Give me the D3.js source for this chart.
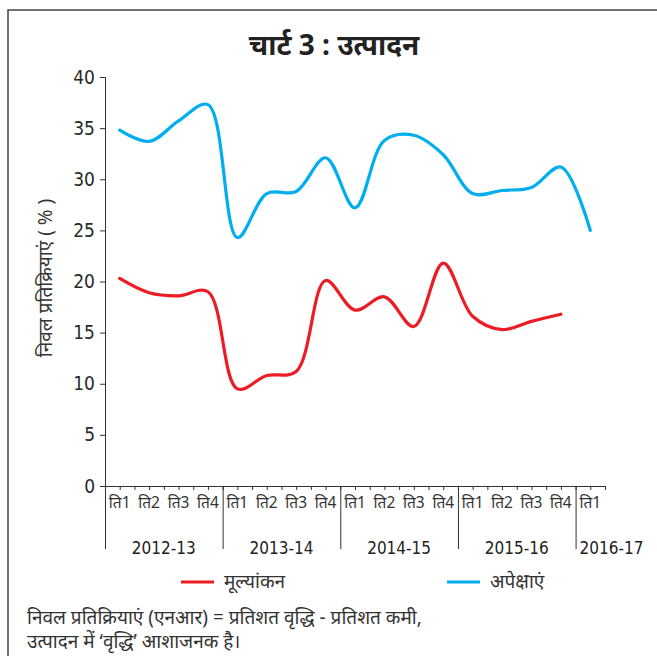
<!DOCTYPE html>
<html>
<head>
<meta charset="utf-8">
<script src="https://cdn.jsdelivr.net/npm/d3@7"></script>
<style>
  html, body { margin: 0; padding: 0; background: #fff; }
  svg { display: block; }
  .deva { font-family: "Noto Sans", "Noto Sans Devanagari", "Lohit Devanagari", sans-serif; }
  .num { font-family: "DejaVu Sans Condensed", "DejaVu Sans", sans-serif; }
</style>
</head>
<body>
<svg id="chart" width="657" height="656"></svg>
<script>
// ---- data ----
const quarterLabels = ["ति1","ति2","ति3","ति4","ति1","ति2","ति3","ति4","ति1","ति2","ति3","ति4","ति1","ति2","ति3","ति4","ति1"];
const years = ["2012-13","2013-14","2014-15","2015-16","2016-17"];
const quartersPerYear = [4, 4, 4, 4, 1];
const assessment = [20.3, 18.9, 18.6, 19.0, 9.5, 10.8, 11.2, 20.1, 17.2, 18.5, 15.6, 21.8, 16.6, 15.3, 16.1, 16.8];
const expectations = [34.8, 33.7, 35.7, 37.3, 24.3, 28.6, 28.8, 32.1, 27.2, 33.8, 34.3, 32.4, 28.6, 28.9, 29.2, 31.2, 25.0];
const yTicks = [0, 5, 10, 15, 20, 25, 30, 35, 40];
const seriesNames = ["मूल्यांकन", "अपेक्षाएं"];
const title = "चार्ट 3 : उत्पादन";
const yTitle = "निवल प्रतिक्रियाएं ( % )";
const notes = ["निवल प्रतिक्रियाएं (एनआर) = प्रतिशत वृद्धि - प्रतिशत कमी,", "उत्पादन में ‘वृद्धि’ आशाजनक है।"];

// ---- layout ----
const svg = d3.select("#chart");
const pLeft = 105, pRight = 605, pTop = 77, pBottom = 486;
const idx = d3.range(quarterLabels.length);
const x = d3.scaleBand().domain(idx).range([pLeft, pRight]).padding(0);
const xh = d3.scaleLinear().domain([0, quarterLabels.length]).range([pLeft, pRight]);
const y = d3.scaleLinear().domain([0, 40]).range([pBottom, pTop]);
const red = "#ec1c24", blue = "#00aeef", ink = "#333";

// frame
svg.append("path").attr("d", `M8,656 L8,10 L657,10`).attr("fill", "none").attr("stroke", "#444").attr("stroke-width", 1.5);

// title
svg.append("text").attr("class", "deva").attr("x", 334).attr("y", 55).attr("text-anchor", "middle")
  .attr("font-size", 28).attr("font-weight", "bold").attr("fill", "#222").text(title);

// y axis
const yAxis = svg.append("g").attr("transform", `translate(${pLeft},0)`)
  .call(d3.axisLeft(y).tickValues(yTicks).tickSize(5).tickPadding(5));
yAxis.select(".domain").attr("stroke", ink).attr("d", `M0.5,${pTop}V${pBottom}`);
yAxis.selectAll(".tick line").attr("stroke", ink);
yAxis.selectAll(".tick text").attr("class", "num").attr("font-size", 19).attr("fill", "#2a2a2a");

// y title
svg.append("text").attr("class", "deva").attr("transform", `translate(52,278) rotate(-90)`)
  .attr("text-anchor", "middle").attr("font-size", 19).attr("fill", "#333").text(yTitle);

// x axis: minor ticks every half-quarter
const xMinor = svg.append("g").attr("transform", `translate(0,${pBottom})`)
  .call(d3.axisBottom(xh).tickValues(d3.range(0, quarterLabels.length + 0.01, 0.5)).tickSize(4).tickFormat(""));
xMinor.select(".domain").attr("stroke", ink).attr("d", `M${pLeft - 5},0.5H${pRight}`);
xMinor.selectAll(".tick line").attr("stroke", ink);

// quarter labels
const xAxis = svg.append("g").attr("transform", `translate(0,${pBottom})`)
  .call(d3.axisBottom(x).tickSize(0).tickPadding(11).tickFormat(i => quarterLabels[i]));
xAxis.select(".domain").remove();
xAxis.selectAll(".tick text").attr("class", "deva").attr("font-size", 15.5).attr("fill", "#333");

// year separators and labels
let start = 0;
const yearStarts = quartersPerYear.map(n => { const s = start; start += n; return s; });
svg.append("g").selectAll("line").data(yearStarts).join("line")
  .attr("x1", d => xh(d) + 0.5).attr("x2", d => xh(d) + 0.5)
  .attr("y1", pBottom).attr("y2", 549).attr("stroke", ink).attr("stroke-width", 1);
svg.append("g").selectAll("text").data(years).join("text")
  .attr("class", "num")
  .attr("x", (d, i) => i < years.length - 1 ? xh(yearStarts[i] + quartersPerYear[i] / 2) : xh(yearStarts[i]) + 4)
  .attr("y", 554)
  .attr("text-anchor", (d, i) => i < years.length - 1 ? "middle" : "start")
  .attr("font-size", 17).attr("fill", "#222").text(d => d);

// lines
const line = d3.line().x((d, i) => x(i) + x.bandwidth() / 2).y(d => y(d)).curve(d3.curveCatmullRom.alpha(0.5));
svg.append("path").datum(assessment).attr("d", line).attr("fill", "none").attr("stroke", red).attr("stroke-width", 3.2).attr("stroke-linecap", "round");
svg.append("path").datum(expectations).attr("d", line).attr("fill", "none").attr("stroke", blue).attr("stroke-width", 3.2).attr("stroke-linecap", "round");

// legend
const legend = [{ name: seriesNames[0], color: red, x: 181 }, { name: seriesNames[1], color: blue, x: 447 }];
const lg = svg.append("g").selectAll("g").data(legend).join("g").attr("transform", d => `translate(${d.x},582)`);
lg.append("line").attr("x1", 0).attr("x2", 33).attr("stroke", d => d.color).attr("stroke-width", 3);
lg.append("text").attr("class", "deva").attr("x", 43).attr("y", 6).attr("font-size", 19).attr("fill", "#333").text(d => d.name);

// notes
svg.append("g").selectAll("text").data(notes).join("text").attr("class", "deva")
  .attr("x", 27).attr("y", (d, i) => 624 + i * 24).attr("font-size", 19).attr("fill", "#333").text(d => d);
</script>
</body>
</html>
